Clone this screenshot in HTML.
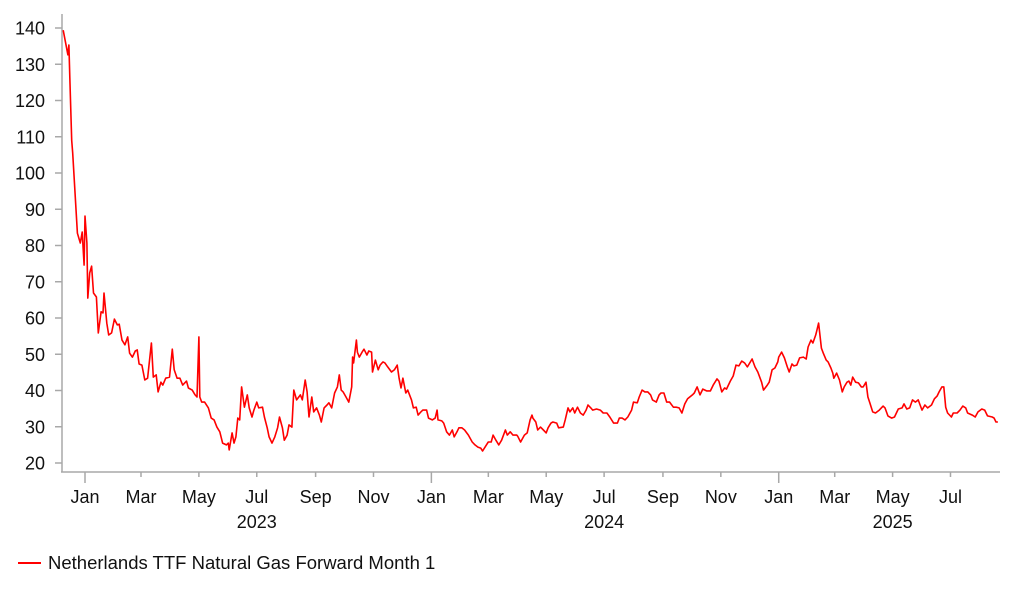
<!DOCTYPE html>
<html><head><meta charset="utf-8"><style>
html,body{margin:0;padding:0;background:#fff;}
svg text{font-family:"Liberation Sans",Arial,sans-serif;fill:#111;}
</style></head><body>
<svg id="chart" width="1022" height="597" viewBox="0 0 1022 597" xmlns="http://www.w3.org/2000/svg">
<g id="axes"></g>
<g id="series"></g>
<g>
<line x1="18" y1="563" x2="41" y2="563" stroke="#f00" stroke-width="2"/>
<text x="48" y="569" font-size="18.5">Netherlands TTF Natural Gas Forward Month 1</text>
</g>
</svg>
<script>
// days since 2023-01-01
const days = [-23,-18,-17,-16,-14,-13,-8,-5,-3,-1,0,2,3,5,7,9,12,14,17,19,20,23,25,28,31,34,36,39,42,45,47,50,53,55,57,60,63,66,70,72,75,77,80,82,85,89,92,94,97,100,103,107,109,113,116,118,120,121,123,126,130,133,136,139,142,145,149,151,152,155,157,159,161,163,165,168,171,173,176,178,181,183,187,189,192,194,197,200,203,205,208,210,213,215,218,220,223,227,229,232,234,236,239,241,244,247,249,252,255,257,260,263,266,268,270,272,275,278,281,282,283,286,287,289,292,294,297,299,302,303,306,309,311,314,316,319,323,326,329,331,333,335,338,340,344,346,349,351,354,356,360,362,366,369,371,372,376,378,381,384,387,389,392,394,397,400,404,408,411,414,417,419,423,425,428,430,433,436,439,443,445,448,451,455,456,459,463,466,469,471,472,475,477,480,483,486,488,491,493,497,499,504,506,509,511,514,516,519,522,525,528,530,533,535,539,543,546,550,553,557,561,563,566,569,572,576,578,582,584,587,590,593,596,598,602,605,607,610,613,616,620,623,626,629,632,635,640,642,645,648,651,655,659,662,666,668,671,674,676,680,683,686,689,692,695,698,703,706,709,713,715,719,721,724,727,730,731,734,737,740,742,745,747,750,753,757,760,762,765,767,770,771,773,776,778,781,783,786,788,789,792,795,798,800,803,805,807,809,812,815,818,820,823,825,827,830,833,837,841,843,846,850,853,857,861,863,866,869,872,875,878,882,885,888,892,895,898,900,903,905,907,909,913,915,919,922,925,928,930,935,938,941,945,948,951,956,958,960,962];
const prices = [139.4,132.6,135.3,126.5,109,105.5,83.4,80.7,83.7,74.6,88.1,80.7,65.5,72.4,74.3,66.9,65.8,55.9,61.7,61.4,66.9,58.6,55.3,55.9,59.7,58.1,58.3,53.9,52.6,54.8,50.3,49.2,50.9,51.2,47.3,47,42.9,43.4,53.1,43.7,44.3,39.6,42.3,41.5,43.4,43.7,51.4,45.7,43.4,43.4,41.5,42.6,40.7,40.1,38.8,38.2,54.8,38.2,36.8,36.8,35.2,32.4,31.9,29.9,28.6,25.5,25,25.5,23.6,28.3,25.5,27.2,32.4,31.9,41,35.4,38.8,35.2,32.7,34.6,36.8,35.2,35.4,32.7,29.7,27.2,25.5,27.2,29.7,32.7,29.7,26.3,27.7,30.5,29.9,40.1,37.4,38.8,37.4,42.9,39.6,32.7,38.2,34.1,35.2,33.2,31.3,35.2,36,36.6,35.2,39.3,41,44.3,40.1,39.6,38.2,36.8,41,49.2,47.6,53.9,50.6,49.2,50.6,51.4,49.8,50.9,50.6,45.1,48.4,45.7,47,47.9,47.6,46.5,45.1,45.7,47,43.4,40.7,43.4,39.3,40.1,37.4,35.2,35.4,33.2,34.1,34.6,34.6,32.4,31.9,32.4,34.6,31.9,31.6,31,28.6,27.7,29.1,27.2,28.6,29.7,29.7,29.1,27.7,25.8,25,24.4,24.1,23.3,25,25.8,25.8,27.7,26.3,25,26.3,29.1,27.7,28.6,27.7,27.7,27.4,25.8,27.7,28.3,31.9,33.2,32.4,31.3,29.1,29.9,29.1,28.3,29.7,31,31.3,31,29.7,29.9,31.9,35.2,34.1,35.2,33.8,35.4,33.8,33.2,34.6,36,35.2,34.6,34.9,34.6,33.8,33.8,32.7,31,31,32.4,32.4,31.9,32.7,34.6,36.8,36.6,38.2,40.1,39.6,39.6,38.8,37.4,36.8,38.8,39.3,39.3,36.8,36.8,35.4,35.4,35.2,33.8,36.3,37.7,38.8,39.3,41,38.8,40.4,39.9,39.9,41.5,43.2,42.6,39.6,40.7,40.4,42.6,44,47,46.8,48.1,47.6,46.5,48.7,46.5,45.1,42.3,40.1,41.5,42.3,45.7,46.2,47.9,49.2,50.6,49,46.5,45.1,47.3,46.8,47,49,49.2,48.7,52,53.9,53.1,55.3,56.4,58.6,51.7,50.3,48.4,47.9,46.2,44.8,43.4,44.8,42.9,39.6,41,42.3,42.6,41.5,43.7,42.3,42.1,41,41,42.3,38.2,36.6,34.1,33.8,34.6,35.7,35.2,33,32.4,32.7,34.9,35.2,36.3,34.9,35.2,37.4,36.8,37.4,34.6,36,35.2,36,37.7,38.5,39.6,41,41,35.4,33.8,32.7,33.8,33.8,34.6,35.7,35.2,33.8,33.2,32.7,34.1,34.9,34.6,33,32.7,32.4,31.3,31.3];
const yTicks = [20,30,40,50,60,70,80,90,100,110,120,130,140];
const monthTickDays = [0,59,120,181,243,304,365,425,486,547,609,670,731,790,851,912];
const monthLabels = ["Jan","Mar","May","Jul","Sep","Nov","Jan","Mar","May","Jul","Sep","Nov","Jan","Mar","May","Jul"];
const yearLabels = ["2023","2024","2025"];
const yearLabelDays = [181,547,851];

const NS="http://www.w3.org/2000/svg";
const xS = d => 85 + d*0.949;
const yS = v => 463 - (v-20)*3.625;
const axes=document.getElementById('axes');
function mk(tag,attrs,parent){const e=document.createElementNS(NS,tag);for(const k in attrs)e.setAttribute(k,attrs[k]);parent.appendChild(e);return e;}
const ya=mk('line',{x1:62,y1:14,x2:62,y2:472,stroke:'#a8a8a8','stroke-width':1.5},axes);


const xa=mk('line',{x1:61,y1:472,x2:1000,y2:472,stroke:'#a8a8a8','stroke-width':1.5},axes);


yTicks.forEach(v=>{
  const y=yS(v);
  const t=mk('line',{x1:55,y1:y,x2:62,y2:y,stroke:'#a8a8a8','stroke-width':1.5},axes);
  
  
  const l=mk('text',{x:45,y:y+6.5,'text-anchor':'end','font-size':18},axes);
  
  
  l.textContent=v;
});
monthTickDays.forEach((d,i)=>{
  const x=xS(d);
  const long=monthLabels[i]==="Jan";
  const t=mk('line',{x1:x,y1:472,x2:x,y2:long?483:477,stroke:'#a8a8a8','stroke-width':1.5},axes);
  
  
  const l=mk('text',{x:x,y:503,'text-anchor':'middle','font-size':18},axes);
  
  
  l.textContent=monthLabels[i];
});
yearLabels.forEach((s,i)=>{
  const l=mk('text',{x:xS(yearLabelDays[i]),y:528,'text-anchor':'middle','font-size':18},axes);
  
  
  l.textContent=s;
});
const pts=days.map((d,i)=>xS(d).toFixed(1)+','+yS(prices[i]).toFixed(1)).join(' ');
const line=mk('polyline',{points:pts,fill:'none',stroke:'#f00','stroke-width':1.6,'stroke-linejoin':'round'},document.getElementById('series'));


</script>
</body></html>
